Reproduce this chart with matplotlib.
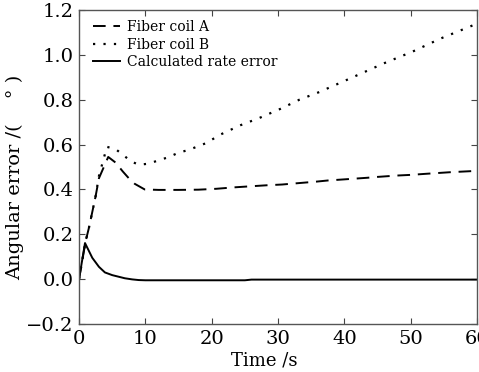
import matplotlib
matplotlib.use("Agg")
import matplotlib.pyplot as plt

plt.rcParams['font.family'] = ['DejaVu Serif']

t_a = [0, 1, 1.5, 2.5, 3, 4.4, 5.5, 6.6, 7.5, 8.4, 9.9, 12, 15, 18, 20.7, 23.2, 25.8, 28.5, 30.6,
       33, 35.8, 37.5, 40, 43.4, 45, 47.9, 50, 52.4, 56, 58.7, 60]
coil_a = [0, 0.17, 0.23, 0.37, 0.45, 0.545, 0.52, 0.48, 0.45, 0.425, 0.40, 0.398, 0.398, 0.399, 0.403,
          0.409, 0.414, 0.419, 0.422, 0.428, 0.435, 0.44, 0.445, 0.452, 0.456, 0.462, 0.465, 0.47,
          0.477, 0.481, 0.483]

t_b = [0, 1, 1.5, 2.5, 3, 4.2, 5.5, 6.6, 7.8, 9.0, 10.5, 12, 13.5, 15, 16.5, 19.1, 21.4, 24.3, 27.2,
       30.4, 33.2, 36.1, 40.4, 46.0, 50.3, 54.5, 58.9, 60]
coil_b = [0, 0.17, 0.23, 0.37, 0.46, 0.59, 0.58, 0.555, 0.526, 0.51, 0.515, 0.53, 0.544, 0.564, 0.576,
          0.606, 0.646, 0.686, 0.719, 0.76, 0.80, 0.833, 0.889, 0.963, 1.015, 1.073, 1.126, 1.14]

t_c = [0, 0.9, 2, 3, 3.9, 5, 6.9, 8, 9, 10, 15, 20, 25, 26, 30, 40, 50, 60]
rate_err = [0, 0.161, 0.095, 0.055, 0.03, 0.018, 0.004, -0.001, -0.004, -0.005, -0.005, -0.005,
            -0.005, -0.002, -0.002, -0.002, -0.002, -0.002]

fig = plt.figure(figsize=(4.79, 3.72), dpi=100)
ax = fig.add_axes([0.165, 0.129, 0.831, 0.844])

ax.plot(t_a, coil_a, color='black', linestyle=(0, (6.5, 4)), linewidth=1.4, label='Fiber coil A')
ax.plot(t_b, coil_b, color='black', linestyle=(0, (1, 3.7)), linewidth=1.6, label='Fiber coil B')
ax.plot(t_c, rate_err, color='black', linestyle='-', linewidth=1.4, label='Calculated rate error')

ax.set_xlim(0, 60)
ax.set_ylim(-0.2, 1.2)
ax.set_xticks([0, 10, 20, 30, 40, 50, 60])
ax.set_yticks([-0.2, 0.0, 0.2, 0.4, 0.6, 0.8, 1.0, 1.2])
ax.set_yticklabels(['\u22120.2', '0.0', '0.2', '0.4', '0.6', '0.8', '1.0', '1.2'])
ax.tick_params(direction='in', top=True, right=True, labelsize=14, length=4, colors='#444444',
               labelcolor='black', pad=4)
for s in ax.spines.values():
    s.set_color('#555555')
    s.set_linewidth(1.0)

ax.set_xlabel('Time /s', fontsize=13)
ax.xaxis.set_label_coords(0.465, -0.089)
ax.set_ylabel('Angular error /(    ° )', fontsize=14)
ax.yaxis.set_label_coords(-0.138, 0.468)

ax.legend(loc='upper left', frameon=False, fontsize=10, handlelength=2.0, handletextpad=0.5,
          labelspacing=0.25, borderaxespad=0.0, bbox_to_anchor=(0.02, 0.985))

fig.savefig('out.png', dpi=100)
